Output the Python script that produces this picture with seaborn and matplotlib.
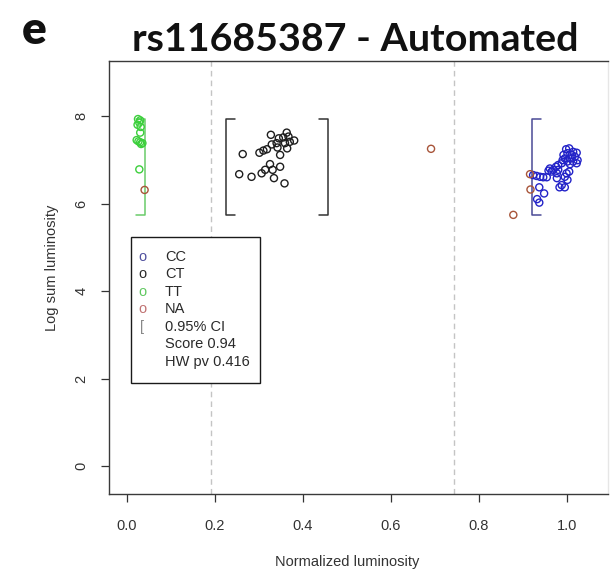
import numpy as np
import pandas as pd
import matplotlib
matplotlib.use("Agg")
import matplotlib.pyplot as plt
import matplotlib.patches as mpatches
import seaborn as sns

# ---------------- data ----------------
tt_x = [0.025, 0.030, 0.028, 0.024, 0.031, 0.030, 0.022, 0.026, 0.030, 0.035, 0.032, 0.028]
tt_y = [7.93, 7.90, 7.85, 7.80, 7.75, 7.62, 7.45, 7.42, 7.40, 7.38, 7.36, 6.78]

ct_x = [0.327, 0.363, 0.345, 0.355, 0.367, 0.380, 0.370, 0.359, 0.340, 0.329, 0.364, 0.342, 0.318,
        0.310, 0.301, 0.263, 0.348, 0.325, 0.348, 0.314, 0.331, 0.306, 0.255, 0.283, 0.334, 0.358]
ct_y = [7.57, 7.62, 7.49, 7.51, 7.53, 7.44, 7.41, 7.38, 7.38, 7.35, 7.26, 7.28, 7.24,
        7.21, 7.16, 7.13, 7.11, 6.90, 6.84, 6.77, 6.77, 6.69, 6.67, 6.61, 6.58, 6.46]

cc_x = [0.998, 1.005, 1.014, 1.022, 1.011, 1.001, 0.992, 1.018, 1.007, 0.995, 1.024, 1.014, 1.001, 0.990,
        0.988, 0.980, 1.007, 1.022, 0.975, 0.969, 0.980, 0.961, 0.958, 0.977, 0.965, 0.954, 0.946, 0.939,
        0.931, 0.923, 0.999, 1.005, 0.995, 0.977, 1.001, 0.988, 0.983, 0.995, 0.937, 0.948, 0.932, 0.937]
cc_y = [7.24, 7.26, 7.18, 7.16, 7.11, 7.15, 7.11, 7.07, 7.03, 7.03, 6.99, 6.96, 6.96, 6.99,
        6.92, 6.88, 6.90, 6.92, 6.84, 6.77, 6.77, 6.80, 6.75, 6.69, 6.73, 6.60, 6.60, 6.61,
        6.63, 6.65, 6.69, 6.73, 6.61, 6.58, 6.54, 6.42, 6.37, 6.37, 6.37, 6.23, 6.10, 6.02]

na_x = [0.040, 0.691, 0.916, 0.917, 0.878]
na_y = [6.31, 7.25, 6.67, 6.32, 5.74]

# confidence-interval brackets (None = not visible)
ci_groups = ["CC", "CT", "TT"]
ci_lower = [0.920, 0.225, None]
ci_upper = [None, 0.457, 0.040]
ci_ymin = 5.73
ci_ymax = 7.93

thresholds = [0.191, 0.743]

x_ticks = [0.0, 0.2, 0.4, 0.6, 0.8, 1.0]
x_ticklabels = ["0.0", "0.2", "0.4", "0.6", "0.8", "1.0"]
y_ticks = [0, 2, 4, 6, 8]

legend_symbols = ["o", "o", "o", "o", "[", "", ""]
legend_labels = ["CC", "CT", "TT", "NA", "0.95% CI", "Score 0.94", "HW pv 0.416"]

title = "rs11685387 - Automated"
panel = "e"

# ---------------- style ----------------
pt_colors = {"CC": "#2323c8", "CT": "#1e1e1e", "TT": "#3ccf3c", "NA": "#a8553a"}
ci_colors = {"CC": "#4a4a96", "CT": "#333333", "TT": "#6acc6a"}
leg_colors = ["#50509e", "#2a2a2a", "#60c860", "#c07272", "#888888", None, None]

sns.set_theme(style="white")
plt.rcParams["font.family"] = ["Liberation Sans", "DejaVu Sans"]

W, H = 611, 571
fig = plt.figure(figsize=(W / 100, H / 100), dpi=100)
fig.patch.set_facecolor("white")

def fx(px):
    return px / W

def fy(py):
    return 1 - py / H

ax_l, ax_r, ax_t, ax_b = 109, 608, 61, 494
ax = fig.add_axes([fx(ax_l), fy(ax_b), (ax_r - ax_l) / W, (ax_b - ax_t) / H])
ax.set_facecolor("white")

# threshold lines
for t in thresholds:
    ax.axvline(t, color="#c4c4c4", lw=1.0, ls=(0, (4, 3)), zorder=1)

# points
df = pd.concat([
    pd.DataFrame({"x": cc_x, "y": cc_y, "g": "CC"}),
    pd.DataFrame({"x": ct_x, "y": ct_y, "g": "CT"}),
    pd.DataFrame({"x": tt_x, "y": tt_y, "g": "TT"}),
    pd.DataFrame({"x": na_x, "y": na_y, "g": "NA"}),
], ignore_index=True)

for g in ["CC", "CT", "TT", "NA"]:
    sub = df[df["g"] == g]
    sns.scatterplot(data=sub, x="x", y="y", ax=ax, s=26, marker="o",
                    facecolor="none", edgecolor=pt_colors[g], linewidth=1.0,
                    legend=False, zorder=3)

# brackets
cap = 0.02
for g, lo, hi in zip(ci_groups, ci_lower, ci_upper):
    c = ci_colors[g]
    if lo is not None:
        ax.plot([lo + cap, lo, lo, lo + cap], [ci_ymax, ci_ymax, ci_ymin, ci_ymin],
                color=c, lw=1.1, zorder=2)
    if hi is not None:
        ax.plot([hi - cap, hi, hi, hi - cap], [ci_ymax, ci_ymax, ci_ymin, ci_ymin],
                color=c, lw=1.1, zorder=2)

# axes
x0, xscale = 127, 440.0
y0, yscale = 466, 43.75
ax.set_xlim((ax_l - x0) / xscale, (ax_r - x0) / xscale)
ax.set_ylim((y0 - ax_b) / yscale, (y0 - ax_t) / yscale)
ax.set_xticks(x_ticks)
ax.set_xticklabels(x_ticklabels)
ax.set_yticks(y_ticks)
ax.tick_params(axis="both", direction="out", length=6, width=0.9, colors="#333333",
               labelcolor="#333333", labelsize=10.5, bottom=True, left=True)
ax.tick_params(axis="x", pad=12)
ax.tick_params(axis="y", pad=9, labelrotation=90)
for lbl in ax.get_yticklabels():
    lbl.set_va("center")

for side in ["left", "top", "bottom"]:
    ax.spines[side].set_color("#3a3a3a")
    ax.spines[side].set_linewidth(1.0)
ax.spines["right"].set_color("#e6e6e6")
ax.spines["right"].set_linewidth(1.0)

ax.set_xlabel("Normalized luminosity", fontsize=10.5, color="#333333")
ax.set_ylabel("Log sum luminosity", fontsize=10.5, color="#333333")
ax.xaxis.set_label_coords((347 - ax_l) / (ax_r - ax_l), (ax_b - 562) / (ax_b - ax_t))
ax.xaxis.label.set_va("center")
ax.yaxis.set_label_coords((52 - ax_l) / (ax_r - ax_l), (ax_b - 268) / (ax_b - ax_t))
ax.yaxis.label.set_va("center")

# legend box (drawn manually, R style)
leg_l, leg_t, leg_r, leg_b = 131, 237, 260, 383
rect = mpatches.Rectangle((fx(leg_l), fy(leg_b)), (leg_r - leg_l) / W, (leg_b - leg_t) / H,
                          transform=fig.transFigure, fill=True, facecolor="white",
                          edgecolor="#1a1a1a", lw=1.0, zorder=5)
fig.add_artist(rect)
row0, dy = 257, 17.5
for i, (sym, lab) in enumerate(zip(legend_symbols, legend_labels)):
    yy = fy(row0 + i * dy)
    if sym:
        fig.text(fx(142), yy, sym, color=leg_colors[i], fontsize=10.5, ha="center",
                 va="center", zorder=6)
    fig.text(fx(165), yy, lab, color="#2a2a2a", fontsize=10.5, ha="left", va="center", zorder=6)

# titles
fig.text(fx(355), fy(51), title, ha="center", va="baseline", fontsize=28.4,
         fontweight="bold", family=["Lato", "DejaVu Sans"], color="#111111")
fig.text(fx(22), fy(44), panel, ha="left", va="baseline", fontsize=33,
         fontweight="heavy", family=["Lato", "DejaVu Sans"], color="#111111")

fig.savefig("out.png", dpi=100, facecolor="white")
